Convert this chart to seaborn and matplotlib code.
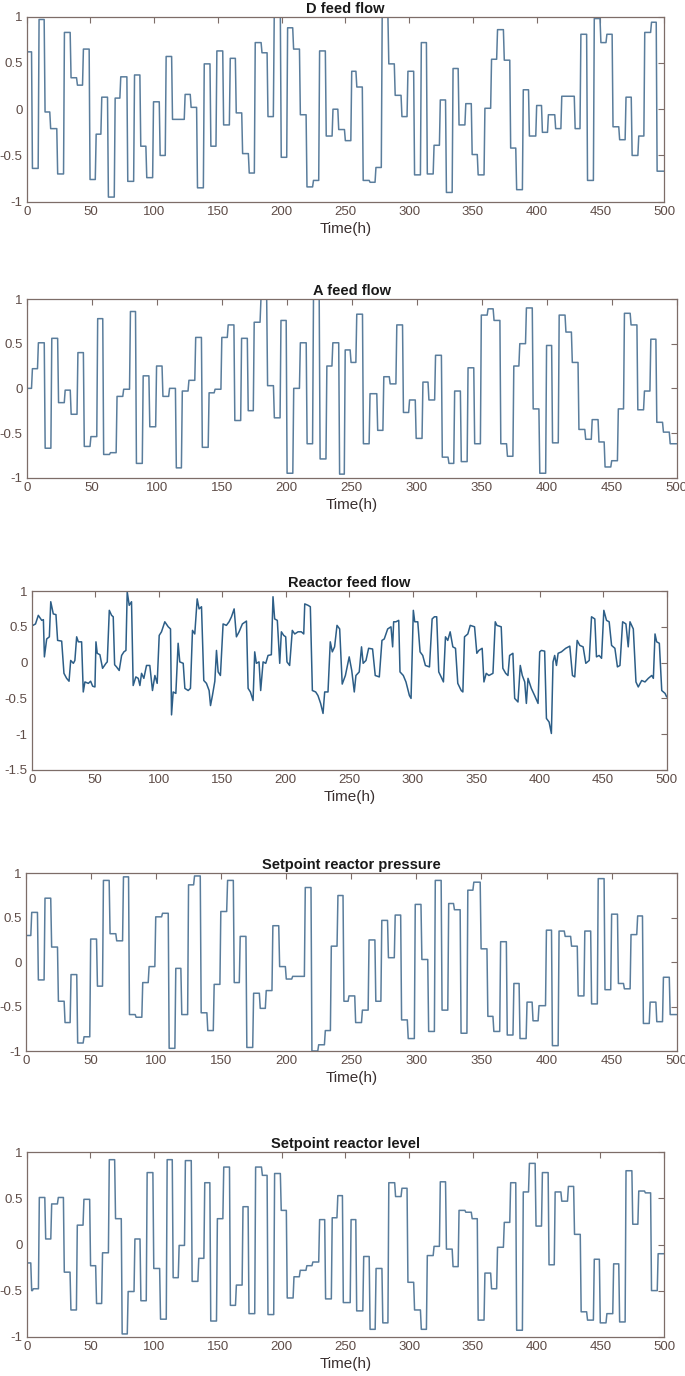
import matplotlib
matplotlib.use("Agg")
import matplotlib.pyplot as plt
import seaborn as sns

# ---------------- data ----------------
titles = ["D feed flow", "A feed flow", "Reactor feed flow",
          "Setpoint reactor pressure", "Setpoint reactor level"]
xlabel_text = "Time(h)"
x_ticks = [0, 50, 100, 150, 200, 250, 300, 350, 400, 450, 500]
y_ticks = [-1, -0.5, 0, 0.5, 1]
y_tick_labels = ["-1", "-0.5", "0", "0.5", "1"]
y_ticks_r = [-1.5, -1, -0.5, 0, 0.5, 1]
y_tick_labels_r = ["-1.5", "-1", "-0.5", "0", "0.5", "1"]

# D feed flow: change times (h) and held values
d_t = [0, 4.5, 9.7, 14.4, 18.8, 24.3, 29.6, 34.8, 39.8, 44.5, 49.7, 54.5, 58.9, 64.1, 69.4,
       73.8, 79.3, 84.6, 89.5, 94.2, 99.5, 104.7, 109.4, 114.4, 124.3, 129, 134, 139.3, 144.5,
       149.2, 154.5, 159.7, 164.4, 169.4, 174.6, 179.3, 184.6, 189.3, 194.2, 199.7, 204.7, 209.4,
       214.7, 219.9, 225, 229.8, 235, 240.3, 244.8, 250, 255, 259, 264, 269.4, 274, 278.9, 284.1,
       289.1, 294.4, 299.1, 304.3, 309.6, 314.3, 319.6, 324.5, 329.3, 334.5, 339.2, 344.5, 349.5,
       354.2, 359.5, 364.7, 369.4, 374.7, 379.7, 384.4, 389.6, 394.4, 400.1, 404.6, 409.3, 415,
       419.8, 430.3, 434.8, 440, 445.3, 450.5, 455.2, 460, 465.2, 470.2, 475, 480.2, 484.9, 490.2,
       494.6]
d_v = [0.62, -0.64, 0.97, -0.03, -0.21, -0.70, 0.83, 0.34, 0.26, 0.65, -0.76, -0.27, 0.13, -0.95,
       0.12, 0.35, -0.78, 0.37, -0.40, -0.74, 0.08, -0.50, 0.57, -0.11, 0.16, 0.02, -0.85, 0.49,
       -0.40, 0.63, -0.17, 0.55, -0.04, -0.48, -0.69, 0.72, 0.61, -0.08, 1.0, -0.52, 0.88, 0.65,
       -0.06, -0.84, -0.77, 0.63, -0.29, 0.0, -0.22, -0.34, 0.41, 0.24, -0.77, -0.79, -0.63, 1.0,
       0.49, 0.15, -0.08, 0.41, -0.71, 0.72, -0.70, -0.39, 0.10, -0.90, 0.44, -0.17, 0.06, -0.49,
       -0.71, 0.01, 0.54, 0.86, 0.53, -0.42, -0.87, 0.21, -0.29, 0.04, -0.25, -0.06, -0.21, 0.14,
       -0.21, 0.81, -0.77, 0.98, 0.72, 0.81, -0.19, -0.33, 0.13, -0.50, -0.29, 0.83, 0.94, -0.67]

# A feed flow
a_t = [0, 4.4, 9, 14.2, 19.3, 24.5, 29.6, 34.2, 39.4, 44.3, 49.4, 54.6, 59.2, 64.4, 69.5, 74.6,
       79.8, 84.4, 89.6, 94.7, 99.9, 104.8, 109.9, 115.1, 119.7, 124.8, 130, 135.1, 140.3, 144.9,
       150.1, 155, 160.1, 165.3, 170.4, 175, 180.2, 185.3, 190.5, 195.6, 200.3, 205.4, 210.5,
       215.7, 220.6, 225.7, 230.9, 235.5, 240.7, 245, 249.5, 253.9, 259, 264.1, 270, 274.7, 279.6,
       284.7, 289.8, 294.5, 299.6, 304.8, 309.4, 314.5, 319.7, 324.8, 329.2, 334.3, 339.5, 344.6,
       349.7, 354.9, 359.5, 364.7, 369.8, 374.7, 379.3, 384.4, 389.6, 394.7, 399.9, 404.5, 409.6,
       414.8, 419.7, 424.8, 430, 435, 440.2, 444.9, 450, 455.1, 459.8, 464.9, 470.1, 475.2, 480.1,
       484.7, 489.8, 495]
a_v = [0.0, 0.22, 0.51, -0.67, 0.56, -0.16, -0.02, -0.29, 0.40, -0.65, -0.54, 0.78, -0.74, -0.72,
       -0.09, -0.01, 0.86, -0.84, 0.14, -0.43, 0.25, -0.09, 0.0, -0.89, -0.03, 0.09, 0.57, -0.66,
       -0.05, -0.01, 0.57, 0.71, -0.36, 0.56, -0.25, 0.74, 1.0, 0.03, -0.33, 0.76, -0.95, 0.0,
       0.51, -0.62, 1.0, -0.79, 0.25, 0.51, -0.96, 0.43, 0.29, 0.83, -0.62, -0.06, -0.47, 0.13,
       0.05, 0.71, -0.27, -0.13, -0.56, 0.07, -0.13, 0.37, -0.77, -0.84, -0.03, -0.82, 0.23, -0.62,
       0.82, 0.89, 0.76, -0.62, -0.76, 0.25, 0.50, 0.90, -0.23, -0.95, 0.48, -0.61, 0.82, 0.63,
       0.29, -0.46, -0.57, -0.35, -0.60, -0.88, -0.81, -0.23, 0.84, 0.71, -0.24, -0.03, 0.55,
       -0.38, -0.49, -0.62]

# Reactor feed flow (sampled points)
r_t = [1, 3, 5.2, 7.9, 9.2, 10, 11.8, 13.9, 15, 17, 19.1, 20.4, 23.6, 25.4, 27.5, 29.4, 30.7, 32.8,
       34, 35.4, 36.7, 39.3, 40.6, 41.9, 44.6, 46.4, 48, 49.8, 50.6, 51.6, 53.7, 55.8, 58.5, 59.5,
       61.1, 62.9, 64.2, 65.3, 66.8, 68.9, 70.8, 72.6, 74.2, 75.2, 76.8, 78.6, 79.9, 82, 83.9, 85.2,
       86.5, 88.3, 90.4, 93, 95.1, 97, 98.8, 100.4, 102.2, 104.8, 107.5, 109.3, 110.1, 111.4, 113.5,
       115.3, 116.6, 119.3, 120.6, 123.2, 125, 126.6, 128.4, 130.3, 131.8, 133.7, 135.5, 137.6,
       139.7, 140.8, 142.3, 144.2, 145.5, 146.8, 148.6, 150.7, 153.3, 155.4, 157.3, 159.4, 161.2,
       163.3, 165.9, 169.1, 170.4, 172.2, 174.3, 175.6, 176.9, 179, 180.3, 182.2, 184.3, 186.1,
       188.7, 190, 191.3, 193.4, 195.3, 196.6, 198.4, 200, 201, 203.1, 205.2, 207.1, 209.7, 212.3,
       214.2, 215, 217.6, 219.4, 221, 223.6, 225.4, 227.5, 229.4, 230.7, 233.3, 235.1, 236.7,
       238.5, 240.4, 242.5, 244.5, 247, 250, 252, 254, 255.3, 257.9, 259.7, 261, 263.2, 265.3,
       268.4, 270.5, 273.7, 275.8, 277.6, 280.3, 282.9, 284.2, 285, 286.8, 289, 290, 292.6, 294.7,
       297.4, 298.7, 300.5, 301.6, 304, 305.8, 307.9, 310, 313.2, 315.3, 317.1, 318.9, 320.5,
       322.4, 324.2, 325.8, 327.6, 329.5, 331.6, 333.7, 335.5, 338.2, 339.5, 340.8, 343.4, 345.3,
       348.7, 350.5, 352.1, 354.7, 356.1, 357.9, 360, 363.2, 365, 366.3, 369.7, 371, 373.2, 375,
       376.3, 378.9, 380.3, 382.9, 384.7, 386.3, 388.2, 389.5, 390.8, 393.4, 396, 398.7, 400,
       401.3, 403.9, 405.3, 407.4, 409.2, 410.5, 411.8, 413.2, 414.5, 417.1, 420.5, 423.7, 425.8,
       427.6, 429.5, 431.6, 434.2, 436.3, 439, 440.8, 443.4, 444.7, 446.8, 448.7, 450.5, 452.6,
       454.7, 456.6, 459.2, 461.2, 463.2, 465.3, 467.9, 469.7, 471.1, 473.7, 475.8, 477.6, 480.3,
       482.9, 485.5, 488.2, 489.5, 490.8, 492.1, 494.2, 496.1, 498.7, 500]
r_v = [0.52, 0.54, 0.66, 0.59, 0.60, 0.08, 0.33, 0.36, 0.85, 0.68, 0.67, 0.31, 0.30, -0.15, -0.22,
       -0.26, 0.03, -0.01, 0.03, 0.36, 0.29, 0.29, -0.41, -0.27, -0.29, -0.26, -0.33, -0.34, 0.29,
       0.13, 0.11, -0.08, -0.01, 0.01, 0.73, 0.66, 0.64, -0.03, -0.06, -0.11, 0.10, 0.15, 0.17,
       0.99, 0.80, 0.85, -0.32, -0.20, -0.22, -0.32, -0.15, -0.22, -0.04, -0.04, -0.39, -0.18,
       -0.29, 0.38, 0.43, 0.57, 0.50, 0.47, -0.73, -0.41, -0.43, 0.27, 0.01, -0.01, -0.36, -0.39,
       -0.36, 0.45, 0.40, 0.89, 0.75, 0.78, -0.25, -0.29, -0.39, -0.60, -0.46, -0.26, 0.17, -0.13,
       -0.18, 0.54, 0.52, 0.57, 0.64, 0.75, 0.36, 0.43, 0.54, 0.58, -0.36, -0.41, -0.53, 0.15,
       -0.01, 0.01, -0.39, 0.01, -0.01, 0.10, 0.11, 0.92, 0.61, 0.59, -0.01, 0.43, 0.38, 0.36,
       0.01, -0.04, 0.45, 0.40, 0.43, 0.43, 0.40, 0.82, 0.80, 0.78, -0.39, -0.41, -0.46, -0.57,
       -0.71, -0.41, -0.41, 0.29, 0.15, 0.22, 0.52, 0.47, -0.30, -0.18, 0.08, -0.11, -0.41, -0.18,
       -0.13, 0.22, -0.01, 0.03, 0.20, 0.19, -0.18, -0.20, 0.31, 0.33, 0.47, 0.50, 0.22, 0.57,
       0.57, 0.59, -0.13, -0.18, -0.27, -0.46, -0.50, 0.73, 0.57, 0.57, 0.15, 0.10, -0.04, -0.06,
       0.61, 0.64, 0.64, -0.13, -0.20, -0.27, 0.36, 0.31, 0.43, 0.22, 0.20, -0.29, -0.39, -0.41,
       0.36, 0.40, 0.52, 0.50, 0.13, 0.17, 0.20, -0.27, -0.15, -0.18, -0.15, 0.57, 0.52, 0.50,
       -0.08, -0.15, -0.18, 0.10, 0.13, -0.50, -0.55, -0.04, -0.18, -0.27, -0.57, -0.22, -0.36,
       -0.46, -0.57, 0.15, 0.17, 0.16, -0.78, -0.83, -0.99, 0.01, 0.10, -0.04, 0.13, 0.15, 0.20,
       0.23, -0.18, -0.20, 0.31, 0.24, 0.22, -0.01, 0.03, 0.64, 0.61, 0.08, 0.10, 0.06, 0.73,
       0.59, 0.57, 0.24, 0.20, -0.06, -0.04, 0.57, 0.54, 0.22, 0.57, 0.47, -0.27, -0.34, -0.25,
       -0.27, -0.22, -0.18, -0.22, 0.40, 0.29, 0.27, -0.39, -0.43, -0.48]

# Setpoint reactor pressure
p_t = [0, 4.4, 9.5, 14.6, 19.7, 24.9, 30, 34.6, 39.7, 44.6, 49.7, 54.9, 59.5, 64.6, 69.7, 74.9,
       79.5, 84.6, 89.7, 94.6, 99.7, 104.9, 110, 115.1, 119.7, 124.9, 129.5, 134.6, 139.7, 144.6,
       149.7, 154.9, 160, 164.6, 169.7, 174.9, 180, 184.6, 189.7, 194.9, 200, 204.9, 214.6, 219.7,
       224.9, 230, 234.6, 239.7, 244.3, 248.2, 253.3, 258.5, 263.6, 268.8, 273.4, 278.5, 283.7,
       288.6, 293.7, 299.1, 304.2, 309.4, 314.5, 319.7, 324.8, 329.2, 334.3, 339.5, 344.1, 349.7,
       354.9, 359.5, 364.7, 369.8, 374.9, 379.6, 385, 389.6, 394.2, 399.9, 404.5, 409.6, 414.3,
       419.2, 424.3, 429.4, 434.6, 439.7, 444.9, 450, 455.2, 459.8, 464.9, 470, 474.4, 479.6,
       484.7, 489.8, 495]
p_v = [0.30, 0.56, -0.20, 0.72, 0.17, -0.44, -0.68, -0.14, -0.91, -0.84, 0.26, -0.27, 0.92, 0.32,
       0.24, 0.96, -0.59, -0.62, -0.23, -0.05, 0.51, 0.55, -0.97, -0.07, -0.59, 0.87, 0.97, -0.57,
       -0.77, -0.25, 0.57, 0.92, -0.23, 0.29, -0.96, -0.35, -0.52, -0.32, 0.41, -0.05, -0.19,
       -0.16, 0.84, -1.0, -0.93, -0.77, 0.18, 0.75, -0.44, -0.38, -0.68, -0.54, 0.25, -0.44, 0.47,
       0.05, 0.53, -0.65, -0.86, 0.65, 0.03, -0.78, 0.92, -0.54, 0.66, 0.59, -0.80, 0.81, 0.90,
       0.15, -0.61, -0.78, 0.23, -0.82, -0.24, -0.86, -0.45, -0.66, -0.49, 0.36, -0.94, 0.35,
       0.29, 0.18, -0.38, 0.35, -0.47, 0.94, -0.31, 0.54, -0.24, -0.30, 0.31, 0.52, -0.69, -0.45,
       -0.67, -0.17, -0.59]

# Setpoint reactor level
l_t = [0, 3.9, 5.2, 9.9, 14.9, 19.6, 24.8, 29.5, 34.7, 39.7, 44.9, 50.1, 54.8, 59.5, 64.8, 69.7,
       74.9, 79.6, 84.9, 89.6, 94.5, 99.7, 105, 110.2, 114.9, 119.6, 124.5, 129.8, 135, 139.7,
       144.4, 149.6, 154.6, 159.8, 164.5, 169.7, 174.4, 179.6, 184.9, 189.3, 194.5, 199.7, 204.4,
       209.7, 214.6, 219.8, 224.5, 229.8, 234.5, 239.7, 244.1, 248.4, 254.5, 258.9, 264.4, 269.4,
       274.1, 279.4, 284.1, 289.4, 294.4, 299.1, 304.3, 309.6, 314.3, 319.6, 324.5, 329.3, 334.5,
       339.2, 344.5, 349.5, 354.2, 359.5, 364.7, 369.4, 374.7, 379.7, 384.4, 389.6, 394.4, 399.6,
       404.6, 409.8, 414.6, 419.8, 425, 429.8, 435, 440, 445.3, 450, 455.2, 460.5, 465.2, 470.2,
       475.5, 480.2, 485.4, 490.2, 495.4]
l_v = [-0.20, -0.50, -0.48, 0.51, 0.06, 0.44, 0.51, -0.30, -0.71, 0.21, 0.49, -0.23, -0.64, -0.09,
       0.92, 0.28, -0.97, -0.51, 0.06, -0.61, 0.78, -0.26, -0.81, 0.92, -0.36, -0.01, 0.91, -0.40,
       -0.15, 0.67, -0.83, 0.28, 0.84, -0.66, -0.44, 0.41, -0.75, 0.84, 0.75, -0.76, 0.77, 0.37,
       -0.58, -0.35, -0.28, -0.23, -0.19, 0.27, -0.59, 0.29, 0.53, -0.63, 0.27, -0.72, -0.13,
       -0.92, -0.26, -0.85, 0.67, 0.52, 0.61, -0.41, -0.71, -0.92, -0.12, -0.02, 0.68, -0.05,
       -0.24, 0.37, 0.35, 0.28, -0.82, -0.31, -0.48, -0.03, 0.24, 0.67, -0.93, 0.57, 0.88, 0.20,
       0.78, -0.22, 0.57, 0.47, 0.63, 0.11, -0.73, -0.82, -0.16, -0.85, -0.75, -0.21, -0.84,
       0.80, 0.22, 0.58, 0.56, -0.50, -0.10]

# ---------------- styling ----------------
sns.set_theme(style="white")
plt.rcParams["font.family"] = ["Liberation Sans", "DejaVu Sans"]
plt.rcParams["axes.unicode_minus"] = False

W, H = 685, 1376
STEP_COLOR = "#5a7d9c"
REACT_COLOR = "#2d5e87"
SPINE = "#7d6d68"
TICKLAB = "#5e4c47"


def step_xy(ts, vs, end=500.0, ramp=0.7):
    xs, ys = [], []
    n = len(ts)
    for i in range(n):
        t0 = ts[i]
        t1 = ts[i + 1] - ramp if i + 1 < n else end
        xs += [t0, t1]
        ys += [vs[i], vs[i]]
    return xs, ys


def make_ax(left, right, top, bottom):
    return fig.add_axes([left / W, 1 - bottom / H, (right - left) / W, (bottom - top) / H])


fig = plt.figure(figsize=(W / 100, H / 100), dpi=100)
fig.patch.set_facecolor("white")

boxes = [
    (26.7, 664.0, 16.7, 201.7),
    (26.7, 676.7, 299.0, 477.7),
    (31.7, 666.7, 591.0, 770.0),
    (26.0, 676.7, 873.3, 1051.0),
    (26.7, 664.0, 1152.3, 1336.7),
]

series = [("step", d_t, d_v), ("step", a_t, a_v), ("line", r_t, r_v),
          ("step", p_t, p_v), ("step", l_t, l_v)]

for i, (box, (kind, ts, vs), title) in enumerate(zip(boxes, series, titles)):
    ax = make_ax(*box)
    if kind == "step":
        xs, ys = step_xy(ts, vs)
        color = STEP_COLOR
    else:
        xs, ys = ts, vs
        color = REACT_COLOR
    sns.lineplot(x=xs, y=ys, ax=ax, sort=False, estimator=None,
                 color=color, linewidth=1.1)
    ax.set_xlim(0, 500)
    if kind == "line":
        ax.set_ylim(-1.5, 1)
        ax.set_yticks(y_ticks_r)
        ax.set_yticklabels(y_tick_labels_r)
    else:
        ax.set_ylim(-1, 1)
        ax.set_yticks(y_ticks)
        ax.set_yticklabels(y_tick_labels)
    ax.set_xticks(x_ticks)
    ax.set_xticklabels([str(v) for v in x_ticks])
    ax.tick_params(direction="in", length=4, width=0.8, top=True, right=True,
                   labelsize=9.5, colors=SPINE, labelcolor=TICKLAB, pad=3)
    for s in ax.spines.values():
        s.set_color(SPINE)
        s.set_linewidth(0.9)
    ax.set_title(title, fontsize=10.5, fontweight="bold", color="#1a1a1a", pad=3)
    ax.set_xlabel(xlabel_text, fontsize=11, color="#3a3030", labelpad=3)
    ax.set_ylabel("")
    ax.grid(False)
    ax.set_facecolor("white")

fig.savefig("out.png", dpi=100, facecolor="white")
